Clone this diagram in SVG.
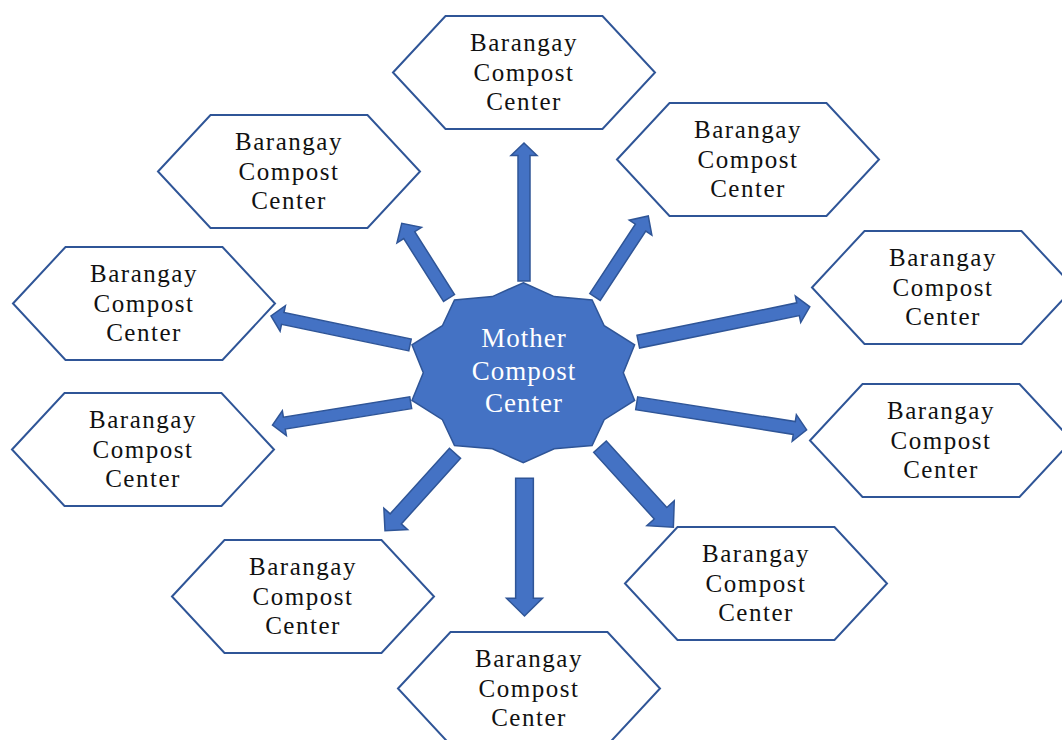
<svg xmlns="http://www.w3.org/2000/svg" xmlns:xlink="http://www.w3.org/1999/xlink" width="1062" height="740" viewBox="0 0 1062 740">
  <style>
    .hex { fill: #FFFFFF; stroke: #2F5597; stroke-width: 2; stroke-linejoin: miter; }
    .lbl { font-family: "Liberation Serif", "DejaVu Serif", serif; font-size: 25px; letter-spacing: 1.5px; fill: #111111; text-anchor: middle; }
    .arrow { fill: #4472C4; stroke: #2F5597; stroke-width: 1.5; stroke-linejoin: miter; }
    .star { fill: #4472C4; stroke: #2F5597; stroke-width: 1.5; stroke-linejoin: miter; }
    .ctr { font-family: "Liberation Serif", "DejaVu Serif", serif; font-size: 27px; letter-spacing: 1px; fill: #FFFFFF; text-anchor: middle; }
  </style>
  <defs>
    <polygon id="hex" class="hex" points="0,56.5 52.5,0 209.5,0 262,56.5 209.5,113 52.5,113"/>
  </defs>
  <rect width="1062" height="740" fill="#FFFFFF"/>

  <g id="connectors">
    <polygon class="arrow" transform="translate(524,281) rotate(-90)" points="0,-6 125.5,-6 125.5,-13 138,0 125.5,13 125.5,6 0,6"/>
    <polygon class="arrow" transform="translate(449,298) rotate(-122.3)" points="0,-6.5 74.4,-6.5 74.4,-14.5 88.4,0 74.4,14.5 74.4,6.5 0,6.5"/>
    <polygon class="arrow" transform="translate(595,297) rotate(-56.7)" points="0,-6.25 83,-6.25 83,-13.5 97,0 83,13.5 83,6.25 0,6.25"/>
    <polygon class="arrow" transform="translate(410,345) rotate(-168.2)" points="0,-6 130,-6 130,-13 142,0 130,13 130,6 0,6"/>
    <polygon class="arrow" transform="translate(410.7,402.7) rotate(170.8)" points="0,-6 128,-6 128,-12.5 140,0 128,12.5 128,6 0,6"/>
    <polygon class="arrow" transform="translate(638.3,341.7) rotate(-11.5)" points="0,-6.5 163,-6.5 163,-13.5 175,0 163,13.5 163,6.5 0,6.5"/>
    <polygon class="arrow" transform="translate(636.7,403.3) rotate(8.9)" points="0,-6.5 159.5,-6.5 159.5,-13.5 172,0 159.5,13.5 159.5,6.5 0,6.5"/>
    <polygon class="arrow" transform="translate(455,453.3) rotate(132.1)" points="0,-7.5 88.4,-7.5 88.4,-16 104.4,0 88.4,16 88.4,7.5 0,7.5"/>
    <polygon class="arrow" transform="translate(524.5,478.3) rotate(90)" points="0,-8.85 120,-8.85 120,-18 137.7,0 120,18 120,8.85 0,8.85"/>
    <polygon class="arrow" transform="translate(600,446.7) rotate(47.7)" points="0,-8.5 90,-8.5 90,-18.5 109,0 90,18.5 90,8.5 0,8.5"/>
  </g>

  <g id="mother">
    <polygon class="star" points="523.3,282.7 554.2,296.6 592.1,299.9 604.2,325.7 634.6,344.9 623.3,372.7 634.6,400.5 604.2,419.7 592.1,445.5 554.2,448.8 523.3,462.7 492.4,448.8 454.5,445.5 442.4,419.7 412,400.5 423.3,372.7 412,344.9 442.4,325.7 454.5,299.9 492.4,296.6"/>
    <text class="ctr" x="524" y="347">Mother</text>
    <text class="ctr" x="524" y="380">Compost</text>
    <text class="ctr" x="524" y="412">Center</text>
  </g>

  <g id="node-top">
    <use xlink:href="#hex" href="#hex" x="393" y="16"/>
    <text class="lbl" x="524" y="51">Barangay</text>
    <text class="lbl" x="524" y="81">Compost</text>
    <text class="lbl" x="524" y="110">Center</text>
  </g>
  <g id="node-upper-left">
    <use xlink:href="#hex" href="#hex" x="158" y="115"/>
    <text class="lbl" x="289" y="150">Barangay</text>
    <text class="lbl" x="289" y="180">Compost</text>
    <text class="lbl" x="289" y="209">Center</text>
  </g>
  <g id="node-upper-right">
    <use xlink:href="#hex" href="#hex" x="617" y="103"/>
    <text class="lbl" x="748" y="138">Barangay</text>
    <text class="lbl" x="748" y="168">Compost</text>
    <text class="lbl" x="748" y="197">Center</text>
  </g>
  <g id="node-left-1">
    <use xlink:href="#hex" href="#hex" x="13" y="247"/>
    <text class="lbl" x="144" y="282">Barangay</text>
    <text class="lbl" x="144" y="312">Compost</text>
    <text class="lbl" x="144" y="341">Center</text>
  </g>
  <g id="node-left-2">
    <use xlink:href="#hex" href="#hex" x="12" y="393"/>
    <text class="lbl" x="143" y="428">Barangay</text>
    <text class="lbl" x="143" y="458">Compost</text>
    <text class="lbl" x="143" y="487">Center</text>
  </g>
  <g id="node-right-1">
    <use xlink:href="#hex" href="#hex" x="812" y="231"/>
    <text class="lbl" x="943" y="266">Barangay</text>
    <text class="lbl" x="943" y="296">Compost</text>
    <text class="lbl" x="943" y="325">Center</text>
  </g>
  <g id="node-right-2">
    <use xlink:href="#hex" href="#hex" x="810" y="384"/>
    <text class="lbl" x="941" y="419">Barangay</text>
    <text class="lbl" x="941" y="449">Compost</text>
    <text class="lbl" x="941" y="478">Center</text>
  </g>
  <g id="node-lower-left">
    <use xlink:href="#hex" href="#hex" x="172" y="540"/>
    <text class="lbl" x="303" y="575">Barangay</text>
    <text class="lbl" x="303" y="605">Compost</text>
    <text class="lbl" x="303" y="634">Center</text>
  </g>
  <g id="node-lower-right">
    <use xlink:href="#hex" href="#hex" x="625" y="527"/>
    <text class="lbl" x="756" y="562">Barangay</text>
    <text class="lbl" x="756" y="592">Compost</text>
    <text class="lbl" x="756" y="621">Center</text>
  </g>
  <g id="node-bottom">
    <use xlink:href="#hex" href="#hex" x="398" y="632"/>
    <text class="lbl" x="529" y="667">Barangay</text>
    <text class="lbl" x="529" y="697">Compost</text>
    <text class="lbl" x="529" y="726">Center</text>
  </g>
</svg>
